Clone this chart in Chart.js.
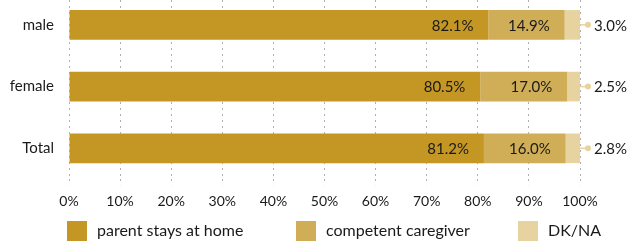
<!DOCTYPE html>
<html>
<head>
<meta charset="utf-8">
<script src="https://cdn.jsdelivr.net/npm/chart.js@4/dist/chart.umd.min.js"></script>
<style>
html,body{margin:0;padding:0;background:#fff;overflow:hidden;}
#wrap{width:627px;height:242px;position:relative;overflow:hidden;}
#c{position:absolute;left:0;top:-6px;}
</style>
</head>
<body>
<div id="wrap"><canvas id="c" width="627" height="248"></canvas></div>
<script>
const categories = ["male", "female", "Total"];
const seriesNames = ["parent stays at home", "competent caregiver", "DK/NA"];
const parentHome = [82.1, 80.5, 81.2];
const caregiver = [14.9, 17.0, 16.0];
const dkna = [3.0, 2.5, 2.8];
const xTicks = [0, 10, 20, 30, 40, 50, 60, 70, 80, 90, 100];
const colors = ["#C49725", "#D0AE57", "#E6D3A0"];

const FONT = "Lato, 'DejaVu Sans', sans-serif";

const labelPlugin = {
  id: 'labels',
  afterDatasetsDraw(chart) {
    const ctx = chart.ctx;
    ctx.save();
    ctx.font = "15px " + FONT;
    ctx.fillStyle = "#1a1a1a";
    ctx.textBaseline = "middle";
    [0, 1].forEach(di => {
      const meta = chart.getDatasetMeta(di);
      meta.data.forEach((bar, i) => {
        const v = chart.data.datasets[di].data[i];
        ctx.textAlign = "right";
        ctx.fillText(v.toFixed(1) + "%", bar.x - 15, bar.y + 1);
      });
    });
    const meta = chart.getDatasetMeta(2);
    meta.data.forEach((bar, i) => {
      const v = chart.data.datasets[2].data[i];
      ctx.strokeStyle = colors[2];
      ctx.lineWidth = 1.5;
      ctx.beginPath();
      ctx.moveTo(bar.x, bar.y);
      ctx.lineTo(bar.x + 10, bar.y);
      ctx.stroke();
      ctx.fillStyle = colors[2];
      ctx.beginPath();
      ctx.arc(bar.x + 8, bar.y, 3, 0, Math.PI * 2);
      ctx.fill();
      ctx.fillStyle = "#1a1a1a";
      ctx.textAlign = "left";
      ctx.fillText(v.toFixed(1) + "%", bar.x + 14, bar.y + 1);
    });
    ctx.restore();
  },
  afterDraw(chart) {
    const ctx = chart.ctx;
    ctx.save();
    ctx.font = "16px " + FONT;
    ctx.textBaseline = "middle";
    ctx.textAlign = "left";
    const xs = [67, 296, 518];
    const y = 227;
    chart.data.datasets.forEach((ds, i) => {
      ctx.fillStyle = ds.backgroundColor;
      ctx.fillRect(xs[i], y, 20, 20);
      ctx.fillStyle = "#1a1a1a";
      ctx.fillText(ds.label, xs[i] + 30, y + 10);
    });
    ctx.restore();
  }
};

new Chart(document.getElementById('c'), {
  type: 'bar',
  data: {
    labels: categories,
    datasets: [
      { label: seriesNames[0], data: parentHome, backgroundColor: colors[0] },
      { label: seriesNames[1], data: caregiver, backgroundColor: colors[1] },
      { label: seriesNames[2], data: dkna, backgroundColor: colors[2] }
    ]
  },
  options: {
    indexAxis: 'y',
    responsive: false,
    animation: false,
    events: [],
    datasets: { bar: { categoryPercentage: 1, barPercentage: 0.48, borderWidth: 0, clip: false } },
    layout: { padding: { top: 0, right: 47, bottom: 24, left: 0 } },
    plugins: { legend: { display: false }, tooltip: { enabled: false } },
    scales: {
      x: {
        stacked: true, min: 0, max: 100,
        afterBuildTicks(s) { s.ticks = xTicks.map(v => ({ value: v })); },
        ticks: { callback: v => v + "%", font: { size: 14, family: FONT }, color: "#1a1a1a", padding: 8, maxRotation: 0 },
        grid: { color: "#b0b0b0", lineWidth: 1, tickLength: 6, drawTicks: true, tickColor: "#b0b0b0", tickBorderDash: [2, 4] },
        border: { display: false, dash: [2, 4] }
      },
      y: {
        stacked: true,
        afterFit(s) { s.width = 69; s.paddingTop = 0; s.paddingBottom = 0; },
        ticks: { font: { size: 15, family: FONT }, color: "#1a1a1a", padding: 7 },
        grid: { display: false },
        border: { display: false }
      }
    }
  },
  plugins: [labelPlugin]
});
</script>
</body>
</html>
